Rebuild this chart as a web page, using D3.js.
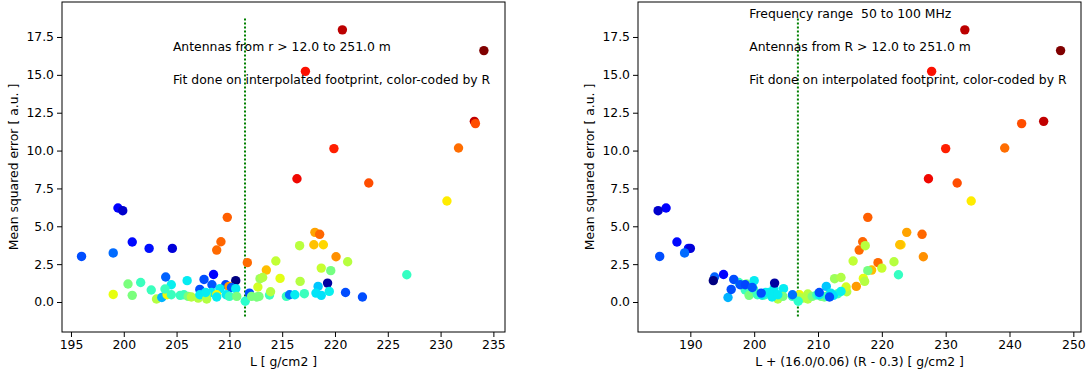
<!DOCTYPE html>
<html>
<head>
<meta charset="UTF-8">
<title>Mean squared error vs L</title>
<script src="https://d3js.org/d3.v7.min.js"></script>
<style>
  body {margin: 0; background: #fff;}
  text {font-family: "DejaVu Sans", sans-serif; fill: #000;}
  .tick text {font-size: 12.4px;}
  .ann {font-size: 12.4px; white-space: pre;}
  .lab {font-size: 12.4px;}
</style>
</head>
<body>
<div id="chart"></div>
<script>
// L [g/cm2] (left panel x), shifted L (right panel x), mean squared error
var Lval = [220.7, 234.1, 217.2, 233.2, 233.3, 219.9, 231.7, 216.4, 223.2, 230.6,
            199.45, 199.9, 209.8, 218.1, 218.55, 209.2, 208.8, 200.8, 202.4, 204.6,
            196.0, 199.0, 218.9, 218.0, 216.65, 220.1, 211.7, 221.2, 214.4, 213.5,
            218.7, 219.6, 226.8, 214.8,
            203.97, 204.5, 200.4, 201.6, 202.6, 199.0, 200.8, 203.1, 203.6, 204.1,
            204.5, 203.9, 205.35, 206.0, 207.6, 208.5, 208.35, 207.2, 210.6, 209.65,
            209.96, 210.2, 210.6, 209.1, 208.3, 207.8, 208.8, 205.7, 206.1, 206.4,
            207.05, 207.2, 207.85, 207.75, 208.8, 209.7, 210.0, 210.7, 211.5, 211.9,
            212.1, 212.6, 212.8, 213.8, 213.9, 212.7, 212.9, 213.15, 216.7, 215.4,
            215.7, 216.2, 217.1, 218.4, 218.2, 218.7, 219.3, 219.46, 221.0, 222.6];
var Xshift = [233.0, 248.0, 227.8, 245.35, 241.9, 230.0, 239.25, 227.3, 231.8, 234.0,
            186.2, 184.95, 217.8, 223.9, 226.3, 217.0, 216.45, 187.9, 189.7, 190.0,
            185.2, 189.1, 223.0, 222.8, 217.4, 226.5, 219.4, 221.9, 215.5, 218.4,
            220.0, 217.8, 222.6, 217.1,
            193.8, 198.6, 198.8, 197.6, 198.6, 201.5, 199.2, 203.7, 195.9, 207.1,
            200.5, 199.9, 201.3, 200.0, 196.8, 195.2, 197.8, 196.4, 193.6, 198.6,
            216.0, 199.7, 204.6, 203.1, 202.3, 208.4, 211.8, 201.7, 204.5, 207.0,
            207.6, 201.2, 208.4, 201.8, 202.8, 203.7, 206.0, 209.1, 206.9, 201.1,
            210.5, 211.0, 211.2, 209.8, 214.5, 214.4, 212.6, 213.6, 217.3, 211.4,
            206.0, 210.2, 213.1, 211.3, 212.0, 212.4, 203.2, 213.6, 210.2, 211.8];
var mse = [17.97, 16.6, 15.23, 11.93, 11.78, 10.13, 10.17, 8.14, 7.86, 6.67,
           6.21, 6.03, 5.59, 4.6, 4.47, 3.98, 3.43, 3.96, 3.54, 3.54,
           3.01, 3.24, 3.78, 3.78, 3.72, 2.99, 2.6, 2.66, 2.71, 2.11,
           2.24, 2.07, 1.8, 1.56,
           1.65, 1.14, 1.19, 1.29, 0.79, 0.5, 0.44, 0.2, 0.3, 0.48,
           0.48, 0.86, 0.44, 1.41, 1.49, 1.82, 1.14, 0.83, 1.41, 1.14,
           1.03, 0.96, 0.88, 0.88, 0.63, 0.53, 0.48, 0.48, 0.37, 0.33,
           0.26, 0.48, 0.2, 0.63, 0.33, 0.48, 0.37, 0.37, 0.05, 0.59,
           0.37, 0.33, 0.37, 0.46, 0.68, 0.99, 1.54, 1.62, 1.36, 0.37,
           0.48, 0.48, 0.55, 1.03, 0.59, 0.44, 1.25, 0.7, 0.63, 0.33];

var yTicks = [0, 2.5, 5, 7.5, 10, 12.5, 15, 17.5];
var xTicksLeft = [195, 200, 205, 210, 215, 220, 225, 230, 235];
var xTicksRight = [190, 200, 210, 220, 230, 240, 250];
var cutLeft = 211.48, cutRight = 206.85;
var notesLeft = ["Antennas from r > 12.0 to 251.0 m", "Fit done on interpolated footprint, color-coded by R"];
var notesRight = ["Frequency range  50 to 100 MHz", "Antennas from R > 12.0 to 251.0 m", "Fit done on interpolated footprint, color-coded by R"];

var W = 1089, H = 377;
var svg = d3.select("#chart").append("svg")
    .attr("width", W).attr("height", H);
svg.append("rect").attr("width", W).attr("height", H).attr("fill", "#fff");

// jet colormap
var jr = d3.scaleLinear().domain([0, 0.35, 0.66, 0.89, 1]).range([0, 0, 1, 1, 0.5]).clamp(true);
var jg = d3.scaleLinear().domain([0, 0.125, 0.375, 0.64, 0.91, 1]).range([0, 0, 1, 1, 0, 0]).clamp(true);
var jb = d3.scaleLinear().domain([0, 0.11, 0.34, 0.65, 1]).range([0.5, 1, 1, 0, 0]).clamp(true);
function jet(t) { return d3.rgb(255 * jr(t), 255 * jg(t), 255 * jb(t)).toString(); }

var Rv = Lval.map(function(d, i) { return Xshift[i] - d; });
var norm = d3.scaleLinear().domain(d3.extent(Rv)).range([0, 1]);

var pts = Lval.map(function(d, i) { return {l: d, x2: Xshift[i], m: mse[i], c: jet(norm(Rv[i]))}; });

var y = d3.scaleLinear().domain([-1.98, 19.81]).range([332, 2]);

function panel(left, right, xDomain, xTicks, key, cut, notes, noteY, xLabel) {
  var x = d3.scaleLinear().domain(xDomain).range([left, right]);
  var g = svg.append("g");

  g.append("g").attr("transform", "translate(0,332)")
    .call(d3.axisBottom(x).tickValues(xTicks).tickSize(5).tickPadding(3).tickFormat(d3.format("d")))
    .call(function(a) { a.select(".domain").remove(); });
  g.append("g").attr("transform", "translate(" + left + ",0)")
    .call(d3.axisLeft(y).tickValues(yTicks).tickSize(5).tickPadding(3).tickFormat(d3.format(".1f")))
    .call(function(a) { a.select(".domain").remove(); });

  g.append("line")
    .attr("x1", x(cut)).attr("x2", x(cut))
    .attr("y1", y(-0.95)).attr("y2", y(18.8))
    .attr("stroke", "#008000").attr("stroke-width", 2)
    .attr("stroke-dasharray", "2,2");

  g.selectAll("circle").data(pts).enter().append("circle")
    .attr("cx", function(d) { return x(d[key]); })
    .attr("cy", function(d) { return y(d.m); })
    .attr("r", 4.7)
    .attr("fill", function(d) { return d.c; });

  g.selectAll("text.ann").data(notes).enter().append("text")
    .attr("class", "ann")
    .attr("x", x(noteY.x))
    .attr("y", function(d, i) { return y(noteY.ys[i]); })
    .text(function(d) { return d; });

  g.append("rect")
    .attr("x", left).attr("y", 2)
    .attr("width", right - left).attr("height", 330)
    .attr("fill", "none").attr("stroke", "#000").attr("stroke-width", 1);

  g.append("text").attr("class", "lab")
    .attr("x", (left + right) / 2).attr("y", 366)
    .attr("text-anchor", "middle").text(xLabel);
  g.append("text").attr("class", "lab")
    .attr("transform", "translate(" + (left - 44) + ",167) rotate(-90)")
    .attr("text-anchor", "middle").text("Mean squared error [ a.u. ]");
}

panel(62, 505, [194.15, 236.1], xTicksLeft, "l", cutLeft, notesLeft,
      {x: 204.65, ys: [16.6, 14.42]}, "L [ g/cm2 ]");
panel(638, 1081, [181.8, 251.2], xTicksRight, "x2", cutRight, notesRight,
      {x: 199.23, ys: [18.76, 16.6, 14.42]}, "L + (16.0/0.06) (R - 0.3) [ g/cm2 ]");

svg.selectAll(".tick line").attr("stroke", "#000");
</script>
</body>
</html>
